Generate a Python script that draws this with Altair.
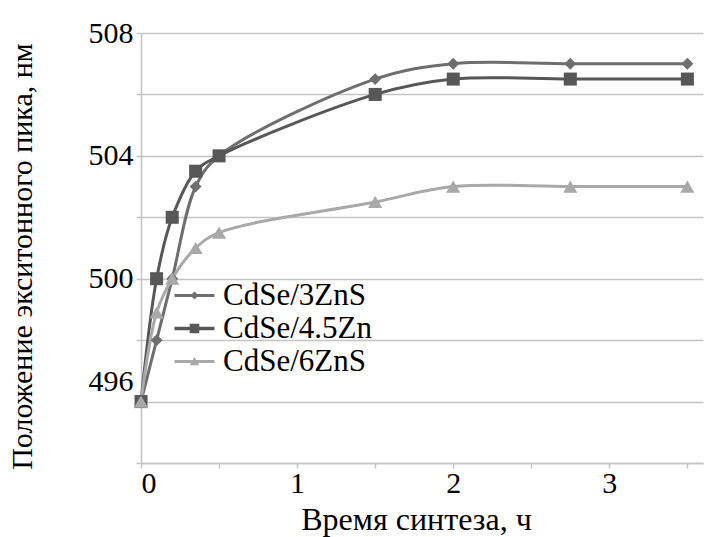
import altair as alt
import pandas as pd

# ---- data ----
series_names = ["CdSe/3ZnS", "CdSe/4.5Zn", "CdSe/6ZnS"]
time_h = [0, 0.1, 0.2, 0.35, 0.5, 1.5, 2, 2.75, 3.5]
peak_3zns = [496, 498, 500, 503, 504, 506.5, 507, 507, 507]
peak_45zn = [496, 500, 502, 503.5, 504, 506, 506.5, 506.5, 506.5]
peak_6zns = [496, 498.9, 500, 501, 501.5, 502.5, 503, 503, 503]

x_ticks = [0, 0.5, 1, 1.5, 2, 2.5, 3, 3.5]
y_ticks = [494, 496, 498, 500, 502, 504, 506, 508]

# ---- styles ----
colors = ["#6e6e6e", "#575757", "#a9a9a9"]
shapes = ["diamond", "square", "triangle-up"]
sizes = [140, 200, 185]
# legend glyphs: a line segment with the marker in its middle (units of r = 10 px)
legend_paths = [
    "M0,-0.15H4V0.15H0Z M2,-0.4L2.4,0L2,0.4L1.6,0Z",
    "M0,-0.17H4V0.17H0Z M1.52,-0.48H2.48V0.48H1.52Z",
    "M0,-0.15H4V0.15H0Z M2,-0.46L2.48,0.38H1.52Z",
]
FONT = "Liberation Serif"
GRID = "#c4c4c4"

rows = []
for name, vals in zip(series_names, [peak_3zns, peak_45zn, peak_6zns]):
    for t, v in zip(time_h, vals):
        rows.append({"series": name, "t": t, "v": v})
df = pd.DataFrame(rows)

x_enc = alt.X(
    "t:Q",
    scale=alt.Scale(domain=[0, 3.6], nice=False, zero=False),
    axis=alt.Axis(
        values=x_ticks,
        labelExpr="datum.value % 1 == 0 ? format(datum.value, 'd') : ''",
        grid=False,
        title="Время синтеза, ч",
        domainColor=GRID, domainWidth=1.5,
        tickColor=GRID, tickWidth=1.5, tickSize=5,
        labelFont=FONT, labelFontSize=30, labelColor="black", labelPadding=0,
        titleFont=FONT, titleFontSize=32, titleFontWeight="normal", titleColor="black",
        titleX=275, titleY=66, titleBaseline="alphabetic", titleAlign="center",
    ),
)
y_enc = alt.Y(
    "v:Q",
    scale=alt.Scale(domain=[494, 508], nice=False, zero=False),
    axis=alt.Axis(
        values=y_ticks,
        labelExpr="datum.value % 4 == 0 ? format(datum.value, 'd') : ''",
        grid=True, gridColor=GRID, gridWidth=1.5,
        title="Положение экситонного пика, нм",
        domainColor=GRID, domainWidth=1.5,
        tickColor=GRID, tickWidth=1.5, tickSize=5,
        labelFont=FONT, labelFontSize=30, labelColor="black", labelPadding=3,
        labelOffset={"condition": {"test": "datum.value == 496", "value": -20}, "value": 0},
        titleFont=FONT, titleFontSize=30, titleFontWeight="normal", titleColor="black",
        titleX=-119, titleY=223, titleAngle=270, titleBaseline="middle", titleAlign="center",
    ),
)
color_enc = alt.Color("series:N", scale=alt.Scale(domain=series_names, range=colors), legend=None)

lines = alt.Chart(df).mark_line(strokeWidth=3, interpolate="catmull-rom").encode(
    x=x_enc, y=y_enc, color=color_enc, detail="series:N"
)
points = alt.Chart(df).mark_point(filled=True, opacity=1).encode(
    x="t:Q", y="v:Q", color=color_enc,
    shape=alt.Shape("series:N", scale=alt.Scale(domain=series_names, range=shapes), legend=None),
    size=alt.Size("series:N", scale=alt.Scale(domain=series_names, range=sizes), legend=None),
)

legend_df = pd.DataFrame({"legend_series": series_names})
legend_layer = alt.Chart(legend_df).transform_filter("datum.legend_series == null").mark_point(
    filled=True, opacity=1
).encode(
    x=alt.X("t:Q"),
    y=alt.Y("v:Q"),
    color=alt.Color(
        "legend_series:N",
        scale=alt.Scale(domain=series_names, range=colors),
        legend=alt.Legend(
            title=None, orient="none", legendX=18, legendY=247, padding=0,
            symbolSize=400, symbolStrokeWidth=0, labelFont=FONT, labelFontSize=31,
            labelColor="black", labelOffset=33, rowPadding=1, labelLimit=300,
        ),
    ),
    shape=alt.Shape("legend_series:N", scale=alt.Scale(domain=series_names, range=legend_paths)),
)

chart = (
    alt.layer(lines, points, legend_layer)
    .resolve_scale(color="independent", shape="independent")
    .properties(
        width=562, height=430,
        autosize=alt.AutoSizeParams(type="none"),
        padding={"left": 141, "top": 33, "right": 2, "bottom": 74},
        background="white",
    )
    .configure_view(stroke=None)
)

chart.save("out.html", embed_options={"renderer": "svg", "actions": False})
